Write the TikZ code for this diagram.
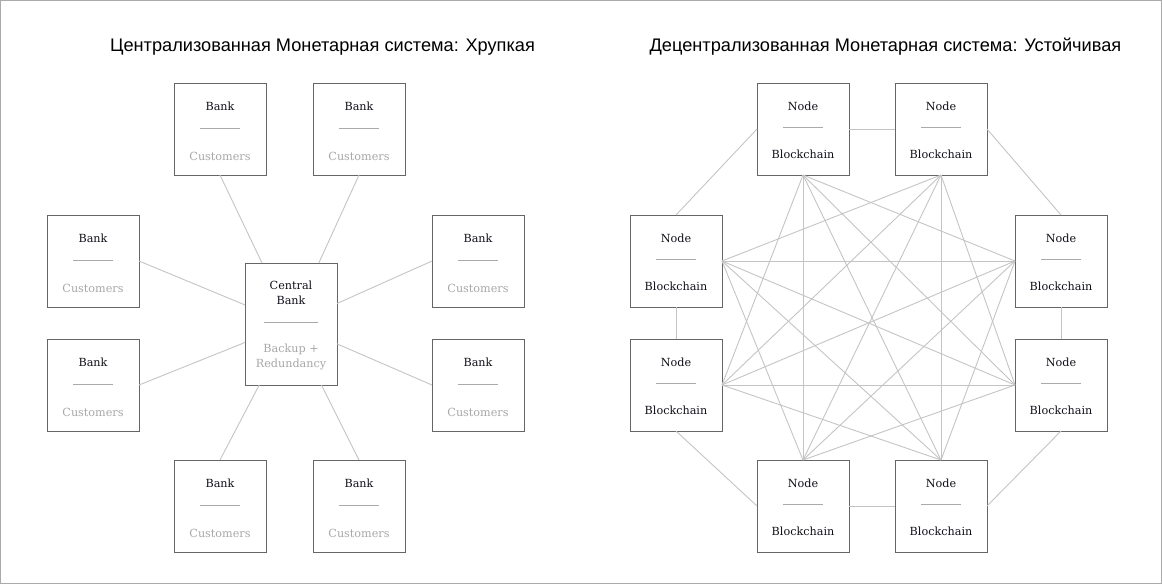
\documentclass[tikz,border=0pt]{standalone}
\usepackage{fontspec}
\setmainfont{DejaVu Serif}
\newfontfamily\titlefont{Liberation Sans}
\usetikzlibrary{calc}
\definecolor{boxline}{HTML}{666666}
\definecolor{linkc}{HTML}{C4C4C4}
\definecolor{sepc}{HTML}{AAAAAA}
\definecolor{greytxt}{HTML}{A8A8A8}
\definecolor{darktxt}{HTML}{10101A}
\definecolor{framec}{HTML}{AAAAAA}
\tikzset{
  box/.style={draw=boxline, line width=1pt, fill=white, minimum width=92pt, minimum height=92pt, inner sep=0pt, outer sep=0pt},
  cbox/.style={box, minimum height=122pt},
  link/.style={draw=linkc, line width=0.9pt},
  sepline/.style={draw=sepc, line width=0.9pt},
  txt/.style={anchor=base, inner sep=0pt, font=\fontsize{11.2}{13}\selectfont, text=darktxt},
  gtxt/.style={txt, text=greytxt},
  ttl/.style={anchor=base, inner sep=0pt, font=\titlefont\fontsize{18.2}{22}\selectfont, text=black}
}
\begin{document}
\begin{tikzpicture}[x=1pt, y=-1pt]
\useasboundingbox (0,0) rectangle (1162,584);
\draw[framec, line width=1pt] (0.5,0.5) rectangle (1161.5,583.5);

% titles
\node[ttl] (t1) at (322.5,51.7) {Централизованная Монетарная система: Хрупкая};
\node[ttl] (t2) at (885.5,51.7) {Децентрализованная Монетарная система: Устойчивая};

% ---------- centralized ----------
\node[cbox] (cb) at (291,324) {};
\foreach \n/\x/\y/\a in {b1/220/129/south, b2/359/129/south, b3/93/261/east, b4/93/385/east,
                         b5/478/261/west, b6/478/385/west, b7/220/506/north, b8/359/506/north} {
  \node[box] (\n) at (\x,\y) {};
  \draw[link] (\n.\a) -- (cb);
  \node[txt] (\n t) at ($(\n.center)+(0,-18.3)$) {Bank};
  \draw[sepline] ($(\n.center)+(-20,-1)$) -- ($(\n.center)+(20,-1)$);
  \node[gtxt] (\n c) at ($(\n.center)+(0,31)$) {Customers};
}
\node[txt] (cbt1) at ($(cb.center)+(0,-35)$) {Central};
\node[txt] (cbt2) at ($(cb.center)+(0,-20)$) {Bank};
\draw[sepline] ($(cb.center)+(-27,-2)$) -- ($(cb.center)+(27,-2)$);
\node[gtxt] (cbt3) at ($(cb.center)+(0,28)$) {Backup +};
\node[gtxt] (cbt4) at ($(cb.center)+(0,43.5)$) {Redundancy};

% ---------- decentralized ----------
\foreach \n/\x/\y/\a in {n1/803/129/south, n2/941/129/south, n3/1061/261/west, n4/1061/385/west,
                         n5/941/506/north, n6/803/506/north, n7/676/385/east, n8/676/261/east} {
  \node[box] (\n) at (\x,\y) {};
  \coordinate (\n i) at (\n.\a);
}
% inner links (non-adjacent pairs)
\foreach \p/\q in {n1/n3, n1/n4, n1/n5, n1/n6, n1/n7,
                   n2/n4, n2/n5, n2/n6, n2/n7, n2/n8,
                   n3/n5, n3/n6, n3/n7, n3/n8,
                   n4/n6, n4/n7, n4/n8,
                   n5/n7, n5/n8,
                   n6/n8} {
  \draw[link] (\p i) -- (\q i);
}
% ring links
\draw[link] (n1.east) -- (n2.west);
\draw[link] (n2.east) -- (n3.north);
\draw[link] (n3.south) -- (n4.north);
\draw[link] (n4.south) -- (n5.east);
\draw[link] (n5.west) -- (n6.east);
\draw[link] (n6.west) -- (n7.south);
\draw[link] (n7.north) -- (n8.south);
\draw[link] (n8.north) -- (n1.west);
\foreach \n in {n1,n2,n3,n4,n5,n6,n7,n8} {
  \node[txt] (\n t) at ($(\n.center)+(0,-19)$) {Node};
  \draw[sepline] ($(\n.center)+(-20,-2)$) -- ($(\n.center)+(20,-2)$);
  \node[txt] (\n b) at ($(\n.center)+(0,29)$) {Blockchain};
}
\end{tikzpicture}
\end{document}
